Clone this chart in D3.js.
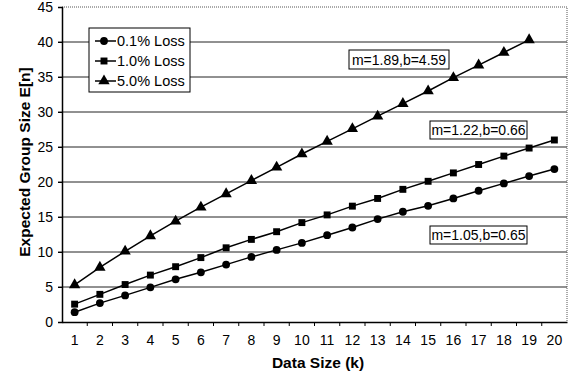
<!DOCTYPE html>
<html>
<meta charset="utf-8">
<title>Expected Group Size</title>
<style>
    body { margin: 0; background: #fff; }
    text { font-family: "Liberation Sans", Arial, sans-serif; fill: #000; }
    .grid line { stroke: #222; stroke-width: 1px; }
    .line { fill: none; stroke: #000; stroke-width: 1.5px; }
</style>
<script src="https://cdn.jsdelivr.net/npm/d3@7/dist/d3.min.js"></script>
<body>
<script>
    // data
    let dataSizes = d3.range(1, 21)
    let yTicks = [0, 5, 10, 15, 20, 25, 30, 35, 40, 45]
    let loss01 = [1.4, 2.7, 3.8, 4.95, 6.1, 7.1, 8.2, 9.3, 10.3, 11.3, 12.4, 13.5, 14.7, 15.75, 16.6, 17.65, 18.75, 19.8, 20.85, 21.85]
    let loss10 = [2.55, 3.95, 5.35, 6.7, 7.9, 9.2, 10.6, 11.8, 12.9, 14.2, 15.3, 16.55, 17.65, 18.95, 20.1, 21.3, 22.5, 23.7, 24.85, 26.0]
    let loss50 = [5.3, 7.8, 10.1, 12.3, 14.4, 16.4, 18.3, 20.2, 22.1, 24.0, 25.8, 27.6, 29.4, 31.2, 33.0, 34.9, 36.7, 38.5, 40.3]
    let seriesNames = ["0.1% Loss", "1.0% Loss", "5.0% Loss"]
    let fits = ["m=1.05,b=0.65", "m=1.22,b=0.66", "m=1.89,b=4.59"]

    let width = 568, height = 373
    let plotLeft = 62, plotRight = 567, plotTop = 7, plotBottom = 322

    let svg = d3.select("body").append("svg")
        .attr("width", width).attr("height", height)

    let x = d3.scaleBand().domain(dataSizes).range([plotLeft, plotRight])
    let y = d3.scaleLinear().domain([0, 45]).range([plotBottom, plotTop])
    let cx = k => x(k) + x.bandwidth() / 2

    // gridlines
    svg.append("g").attr("class", "grid")
        .selectAll("line").data(yTicks.slice(1, -1)).enter().append("line")
        .attr("x1", plotLeft - 4).attr("x2", plotRight)
        .attr("y1", d => y(d)).attr("y2", d => y(d))

    // dotted top and right border
    svg.append("path")
        .attr("d", `M${plotLeft},${y(45)}H${plotRight}V${plotBottom}`)
        .attr("fill", "none").attr("stroke", "#555").attr("stroke-width", 1)
        .attr("stroke-dasharray", "1,1")

    // y axis
    let yAxis = svg.append("g").attr("transform", `translate(${plotLeft},0)`)
        .call(d3.axisLeft(y).tickValues(yTicks).tickSize(4).tickPadding(5))
    yAxis.select(".domain").attr("stroke", "#000").attr("stroke-width", 1.5)
    yAxis.selectAll("text").style("font-size", "14px")

    // x axis with ticks between categories
    let xAxis = svg.append("g").attr("transform", `translate(0,${plotBottom})`)
        .call(d3.axisBottom(x).tickSize(0).tickPadding(13))
    xAxis.select(".domain").attr("stroke", "#000").attr("stroke-width", 1.5)
    xAxis.selectAll("text").style("font-size", "14px")
    xAxis.selectAll(".sep").data(dataSizes.slice(1)).enter().append("line")
        .attr("class", "sep")
        .attr("x1", d => x(d)).attr("x2", d => x(d))
        .attr("y1", 0).attr("y2", 4).attr("stroke", "#000")

    // axis titles
    svg.append("text")
        .attr("x", 318).attr("y", 368)
        .attr("text-anchor", "middle")
        .style("font-size", "15.5px").style("font-weight", "bold")
        .text("Data Size (k)")
    svg.append("text")
        .attr("transform", `translate(30,162) rotate(-90)`)
        .attr("text-anchor", "middle")
        .style("font-size", "15.5px").style("font-weight", "bold")
        .text("Expected Group Size E[n]")

    let line = d3.line()
        .x((d, i) => cx(dataSizes[i]))
        .y(d => y(d))

    let symbols = [d3.symbolCircle, d3.symbolSquare, d3.symbolTriangle]
    let sizes = [48, 48, 56]
    let allSeries = [loss01, loss10, loss50]

    allSeries.forEach(function (vals, s) {
        svg.append("path").datum(vals).attr("class", "line").attr("d", line)
        svg.selectAll(".m" + s).data(vals).enter().append("path")
            .attr("class", "m" + s)
            .attr("transform", (d, i) => `translate(${cx(dataSizes[i])},${y(d)})`)
            .attr("d", d3.symbol().type(symbols[s]).size(sizes[s]))
            .attr("fill", "#000")
    })

    // fit labels
    let fitBoxes = [
        { x: 430, y: 226, w: 97, h: 18 },
        { x: 430, y: 121, w: 97, h: 18 },
        { x: 349, y: 50, w: 100, h: 19 }
    ]
    fitBoxes.forEach(function (b, i) {
        let g = svg.append("g").attr("transform", `translate(${b.x},${b.y})`)
        g.append("rect").attr("width", b.w).attr("height", b.h)
            .attr("fill", "#fff").attr("stroke", "#000").attr("stroke-width", 1)
        g.append("text").attr("x", b.w / 2).attr("y", b.h / 2 + 5)
            .attr("text-anchor", "middle").style("font-size", "14px")
            .text(fits[i])
    })

    // legend
    let legend = svg.append("g").attr("transform", "translate(89,28)")
    legend.append("rect").attr("width", 101).attr("height", 64)
        .attr("fill", "#fff").attr("stroke", "#000").attr("stroke-width", 1)
    seriesNames.forEach(function (name, i) {
        let ly = 13 + i * 20
        legend.append("line").attr("x1", 6).attr("x2", 27)
            .attr("y1", ly).attr("y2", ly).attr("stroke", "#000").attr("stroke-width", 1.5)
        legend.append("path")
            .attr("transform", `translate(15,${ly})`)
            .attr("d", d3.symbol().type(symbols[i]).size(sizes[i]))
            .attr("fill", "#000")
        legend.append("text").attr("x", 28).attr("y", ly + 5)
            .style("font-size", "14.5px").text(name)
    })
</script>
</body>
</html>
